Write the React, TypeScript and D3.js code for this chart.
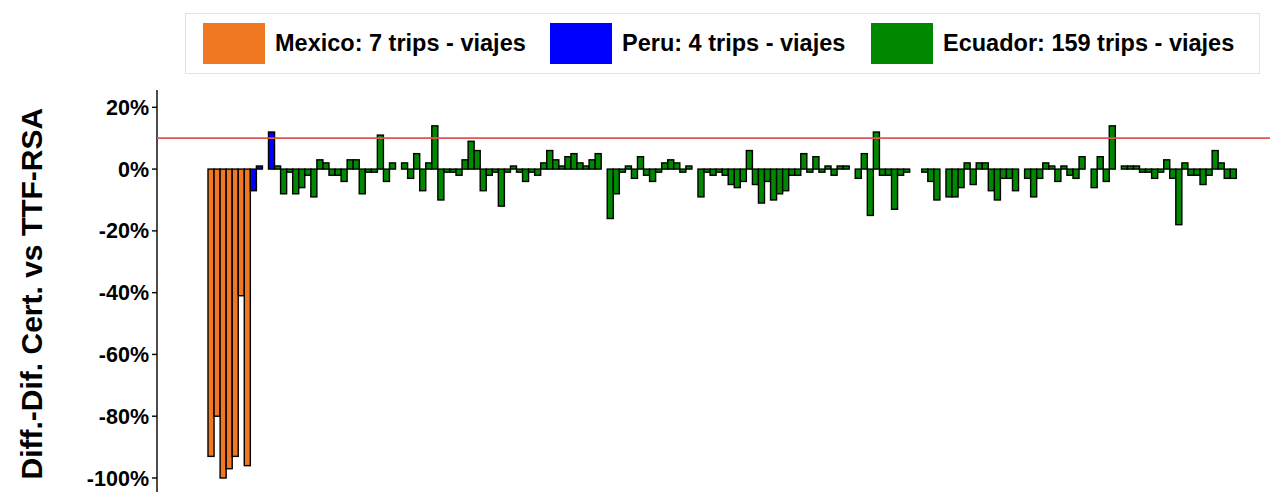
import * as React from "react";
import * as d3 from "d3";

// trip-level differences (%)
const mexicoValues = [-93, -80, -100, -97, -93, -41, -96];
const peruValues = [-7, 1, 0, 12];
const ecuadorValues = [
  1, -8, -1, -8, -6, -2, -9, 3, 2, -2, -2, -4, 3, 3, -8, -1, -1, 11, -4, 2,
  0, 2, -3, 5, -7, 2, 14, -10, -1, -1, -2, 3, 9, 6, -7, -2, -1, -12, -1, 1,
  -1, -4, -1, -2, 2, 6, 3, 1, 4, 5, 2, 1, 3, 5, 0, -16, -8, -1, 1, -3,
  4, -2, -4, -1, 2, 3, 2, -1, 1, 0, -9, -1, -2, -1, -2, -5, -6, -4, 6, -5,
  -11, -4, -10, -8, -7, -2, -2, 5, -1, 4, -1, 1, -2, 1, 1, 0, -3, 5, -15, 12,
  -2, -2, -13, -2, -1, 0, 0, -1, -4, -10, 0, -9, -9, -6, 2, -5, 2, 2, -7, -10,
  -3, -3, -7, 0, -3, -9, -3, 2, 1, -4, 1, -2, -3, 4, 0, -6, 4, -4, 14, 0,
  1, 1, 1, -1, -1, -3, -1, 3, -3, -18, 2, -2, -2, -5, -2, 6, 2, -3, -3,
];

const countries = ["Mexico", "Peru", "Ecuador"];
const countryColors = ["#f07822", "#0000ff", "#008800"];
const legendLabels = [
  "Mexico: 7 trips - viajes",
  "Peru: 4 trips - viajes",
  "Ecuador: 159 trips - viajes",
];
const yTicks = [20, 0, -20, -40, -60, -80, -100];
const threshold = 10;
const yTitle = "Diff.-Dif. Cert. vs TTF-RSA";

const font = "'Liberation Sans', Arial, Helvetica, sans-serif";

export default function App() {
  const width = 1270;
  const height = 492;

  const bars = [
    ...mexicoValues.map((v) => ({ country: "Mexico", value: v })),
    ...peruValues.map((v) => ({ country: "Peru", value: v })),
    ...ecuadorValues.map((v) => ({ country: "Ecuador", value: v })),
  ].map((d, i) => ({ ...d, id: i }));

  // scales
  const x = d3
    .scaleBand<number>()
    .domain(bars.map((d) => d.id))
    .range([208, 1236.3])
    .padding(0);
  const y = d3.scaleLinear().domain([-100, 20]).range([478, 107.3]);
  const color = d3.scaleOrdinal<string, string>().domain(countries).range(countryColors);

  const axisX = 157;

  // legend layout
  const legendFont = 23.5;
  const swatchW = 62;
  const swatchH = 41;
  const textWidths = [252, 226, 294];
  let cursor = 203;
  const legendItems = legendLabels.map((label, i) => {
    const item = { label, sx: cursor, tx: cursor + swatchW + 10, color: countryColors[i] };
    cursor = item.tx + textWidths[i] + 23;
    return item;
  });

  return (
    <svg
      width={width}
      height={height}
      style={{ position: "absolute", left: 0, top: 0, background: "#fff" }}
      fontFamily={font}
    >
      {/* legend */}
      <rect x={185.5} y={13.5} width={1074} height={60} fill="#fff" stroke="#e2e2e2" />
      {legendItems.map((it, i) => (
        <g key={i}>
          <rect x={it.sx} y={23} width={swatchW} height={swatchH} fill={it.color} />
          <text x={it.tx} y={51} fontSize={legendFont} fontWeight="bold" fill="#000">
            {it.label}
          </text>
        </g>
      ))}

      {/* y axis title */}
      <text
        transform={`translate(42, ${(y(20) + y(-100)) / 2 + 1}) rotate(-90)`}
        textAnchor="middle"
        fontSize={30}
        fontWeight="bold"
        fill="#000"
      >
        {yTitle}
      </text>

      {/* y axis */}
      <line x1={axisX} x2={axisX} y1={90} y2={height} stroke="#000" strokeWidth={1.4} />
      {yTicks.map((t) => (
        <g key={t}>
          <line x1={axisX - 5} x2={axisX} y1={y(t)} y2={y(t)} stroke="#000" strokeWidth={1.4} />
          <text x={149} y={y(t) + 7.5} textAnchor="end" fontSize={21.5} fontWeight="bold" fill="#000">
            {t}%
          </text>
        </g>
      ))}

      {/* bars */}
      {bars.map((d) => {
        const y0 = y(0);
        const yv = y(d.value);
        return (
          <rect
            key={d.id}
            x={x(d.id)}
            y={Math.min(y0, yv)}
            width={x.bandwidth()}
            height={Math.abs(yv - y0)}
            fill={color(d.country)}
            stroke="#000"
            strokeWidth={1.4}
          />
        );
      })}

      {/* reference line */}
      <line x1={axisX} x2={width} y1={y(threshold)} y2={y(threshold)} stroke="#e05555" strokeWidth={1.8} />
    </svg>
  );
}
